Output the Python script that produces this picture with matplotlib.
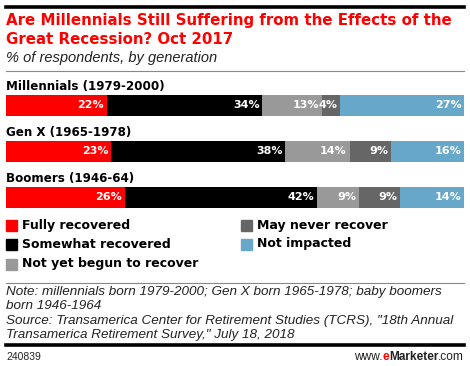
import matplotlib
matplotlib.use("Agg")
import matplotlib.pyplot as plt
from matplotlib.patches import Rectangle
from matplotlib.lines import Line2D

categories = ["Millennials (1979-2000)", "Gen X (1965-1978)", "Boomers (1946-64)"]
series_names = ["Fully recovered", "Somewhat recovered", "Not yet begun to recover",
                "May never recover", "Not impacted"]
fully = [22, 23, 26]
somewhat = [34, 38, 42]
not_yet = [13, 14, 9]
never = [4, 9, 9]
not_impacted = [27, 16, 14]
series_values = [fully, somewhat, not_yet, never, not_impacted]
colors = ["#FF0000", "#000000", "#999999", "#666666", "#67A8CA"]

title = "Are Millennials Still Suffering from the Effects of the\nGreat Recession? Oct 2017"
subtitle = "% of respondents, by generation"
note = ("Note: millennials born 1979-2000; Gen X born 1965-1978; baby boomers\n"
        "born 1946-1964\n"
        "Source: Transamerica Center for Retirement Studies (TCRS), \"18th Annual\n"
        "Transamerica Retirement Survey,\" July 18, 2018")
chart_id = "240839"

W, H = 470, 366
fig = plt.figure(figsize=(W / 100, H / 100), dpi=100)
FONT = "Liberation Sans"
BOLD = "DejaVu Sans"

def fx(px):
    return px / W

def fy(py):
    return 1 - py / H

# top thick line
fig.add_artist(Line2D([fx(6), fx(464)], [fy(7), fy(7)], color="black", lw=2.6))
fig.text(fx(6), fy(20), title.split("\n")[0], color="#FF0000", fontsize=10.85, fontweight="bold",
         family=BOLD, va="center", ha="left")
fig.text(fx(6), fy(39), title.split("\n")[1], color="#FF0000", fontsize=10.85, fontweight="bold",
         family=BOLD, va="center", ha="left")
fig.text(fx(6), fy(58), subtitle, color="#222222", fontsize=10.5, style="italic",
         family=FONT, va="center", ha="left")
fig.add_artist(Line2D([fx(6), fx(464)], [fy(70.5), fy(70.5)], color="#888888", lw=0.8))

# bars
bar_top, bar_bot = 95, 208
spacing = 46.0
bh = 21.0 / spacing
ax = fig.add_axes([fx(6), fy(bar_bot), fx(464) - fx(6), (bar_bot - bar_top) / H])
ax.set_xlim(0, 100)
ax.set_ylim(2 + bh / 2, -bh / 2)
ax.axis("off")
ypos = list(range(len(categories)))
for i in ypos:
    total = sum(s[i] for s in series_values)
    left = 0
    for k, s in enumerate(series_values):
        v = s[i] * 100.0 / total
        ax.barh(i, v, left=left, height=bh, color=colors[k], edgecolor="none")
        ax.text(left + v - 0.6, i, f"{s[i]}%", color="white", fontsize=8.0,
                fontweight="bold", family=BOLD, va="center", ha="right")
        left += v
    ax.text(0, i - bh / 2 - 0.05, categories[i], fontsize=8.6, fontweight="bold",
            family=BOLD, va="bottom", ha="left", color="black")

# legend
legend_pos = [(6, 225), (6, 244), (6, 264), (241, 225), (241, 244)]
for k, name in enumerate(series_names):
    x, y = legend_pos[k]
    fig.add_artist(Rectangle((fx(x), fy(y + 5.5)), 11 / W, 11 / H, color=colors[k],
                             transform=fig.transFigure))
    fig.text(fx(x + 16), fy(y), name, fontsize=9, fontweight="bold", family=BOLD,
             va="center", ha="left", color="black")

fig.add_artist(Line2D([fx(6), fx(464)], [fy(283), fy(283)], color="#888888", lw=0.8))
note_lines = note.split("\n")
for j, line in enumerate(note_lines):
    fig.text(fx(6), fy(292 + j * 14.4), line, fontsize=9.7, style="italic", family=FONT,
             va="center", ha="left", color="#222222")
fig.add_artist(Line2D([fx(6), fx(464)], [fy(345), fy(345)], color="black", lw=2.6))
fig.text(fx(6), fy(357), chart_id, fontsize=7.5, family=FONT, va="center", ha="left",
         color="#222222")
# eMarketer logo text pieces
t3 = fig.text(fx(464), fy(357), ".com", fontsize=8.6, family=FONT, va="center", ha="right",
              color="#222222")
fig.canvas.draw()
r = fig.canvas.get_renderer()
bb = t3.get_window_extent(r)
t2 = fig.text(bb.x0 / W, fy(357), "Marketer", fontsize=8.6, fontweight="bold", family=FONT,
              va="center", ha="right", color="#222222")
bb2 = t2.get_window_extent(r)
t1 = fig.text(bb2.x0 / W, fy(357), "e", fontsize=8.6, fontweight="bold", family=FONT,
              va="center", ha="right", color="#FF0000")
bb1 = t1.get_window_extent(r)
fig.text(bb1.x0 / W, fy(357), "www.", fontsize=8.6, family=FONT, va="center", ha="right",
         color="#222222")

fig.savefig("out.png", dpi=100)
